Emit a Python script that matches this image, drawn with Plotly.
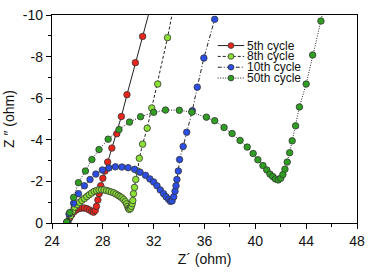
import plotly.graph_objects as go

# ---- data (Z' in ohm, Z'' in ohm) ----
c5_x = [25.25, 25.4, 25.55, 25.75, 25.95, 26.15, 26.35, 26.55, 26.75, 26.95, 27.12, 27.27,
        27.4, 27.5, 27.61, 27.71, 27.84, 28.0, 28.17, 28.38, 28.71, 29.1, 29.46, 29.9,
        30.56, 31.13, 31.85]
c5_y = [-0.05, -0.25, -0.4, -0.55, -0.65, -0.7, -0.72, -0.72, -0.69, -0.63, -0.56, -0.52,
        -0.6, -0.8, -1.11, -1.41, -1.79, -2.15, -2.5, -2.93, -3.6, -4.29, -5.12, -6.17,
        -7.71, -8.97, -10.6]

c8_x = [25.25, 25.45, 25.6, 25.78, 25.97, 26.16, 26.35, 26.55, 26.74, 26.93, 27.12, 27.32,
        27.51, 27.7, 27.9, 28.09, 28.29, 28.48, 28.67, 28.86, 29.03, 29.2, 29.35, 29.5,
        29.64, 29.77, 29.87, 29.95, 30.02, 30.08, 30.18, 30.25, 30.31, 30.36, 30.41,
        30.49, 30.59, 30.74, 30.87, 31.13, 31.49, 31.85, 32.32, 33.09, 33.6]
c8_y = [-0.05, -0.35, -0.55, -0.76, -0.88, -0.99, -1.09, -1.18, -1.27, -1.36, -1.44, -1.52,
        -1.56, -1.59, -1.6, -1.59, -1.56, -1.53, -1.49, -1.45, -1.39, -1.33, -1.27, -1.21,
        -1.13, -1.03, -0.92, -0.8, -0.7, -0.65, -0.7, -0.8, -0.93, -1.08, -1.41,
        -1.71, -2.09, -2.5, -3.11, -3.79, -4.56, -5.53, -6.68, -8.91, -10.5]

c10_x = [25.2, 25.34, 25.7, 26.08, 26.55, 26.99, 27.45, 27.96, 28.48, 28.99, 29.5, 29.99,
         30.5, 30.93, 31.36, 31.7, 32.0, 32.26, 32.52, 32.78, 32.98, 33.17, 33.32, 33.45,
         33.58, 33.68, 33.76, 33.83, 33.94, 34.04, 34.32, 34.6, 35.04, 35.43, 35.95,
         36.8, 37.3]
c10_y = [-0.05, -0.43, -0.95, -1.41, -1.79, -2.09, -2.35, -2.55, -2.65, -2.7, -2.69, -2.66,
         -2.58, -2.44, -2.29, -2.12, -1.97, -1.79, -1.59, -1.41, -1.26, -1.14, -1.04, -1.06,
         -1.26, -1.53, -1.79, -2.09, -2.5, -3.05, -3.68, -4.36, -5.4, -6.53, -7.93,
         -9.79, -10.9]

c50_x = [25.15, 25.4, 25.7, 26.08, 26.63, 27.14, 27.7, 28.42, 29.27, 30.1, 30.97, 32.0,
         32.93, 34.02, 35.0, 36.15, 36.8, 37.54, 38.17, 38.8, 39.36, 39.83, 40.2, 40.6,
         40.9, 41.15, 41.37, 41.58, 41.8, 42.0, 42.17, 42.33, 42.51, 42.7, 42.9, 43.17,
         43.47, 44.0, 44.51, 45.16, 45.5]
c50_y = [-0.05, -0.5, -1.23, -1.94, -2.5, -3.05, -3.53, -4.03, -4.49, -4.85, -5.11, -5.32,
         -5.43, -5.42, -5.33, -5.09, -4.92, -4.59, -4.3, -3.97, -3.65, -3.34, -3.04, -2.76,
         -2.55, -2.35, -2.23, -2.12, -2.07, -2.15, -2.33, -2.59, -2.93, -3.38, -3.95, -4.67,
         -5.58, -6.68, -8.08, -9.71, -10.6]

series_names = ["5th cycle", "8th cycle", "10th cycle", "50th cycle"]
series_colors = ["#E8261C", "#8BE035", "#2B4FE6", "#2F9E22"]
series_dash = ["solid", "3px,2px", "4px,2px,1px,2px", "1px,1.5px"]

x_ticks = [24, 28, 32, 36, 40, 44, 48]
y_ticks = [-10, -8, -6, -4, -2, 0]
y_tick_text = ["-10", "-8", "-6", "-4", "-2", "0"]

xs = [c5_x, c8_x, c10_x, c50_x]
ys = [c5_y, c8_y, c10_y, c50_y]

fig = go.Figure()
for name, x, y, col, dash in zip(series_names, xs, ys, series_colors, series_dash):
    fig.add_trace(go.Scatter(
        x=x, y=y, name=name, mode="lines+markers", showlegend=False,
        line=dict(color="#222222", width=1, dash=dash),
        marker=dict(size=6.5, color=col, line=dict(color="#333333", width=0.8)),
    ))

# manual compact legend (paper coordinates)
L, T, W, H = 52, 7, 311, 221
def px(xp):
    return (xp - L) / W
def py(yp):
    return 1 - (yp - T) / H

row_y = [39.5, 51, 62.5, 74]
for name, col, dash, ry in zip(series_names, series_colors, series_dash, row_y):
    fig.add_shape(type="line", xref="paper", yref="paper",
                  x0=px(221), x1=px(248), y0=py(ry), y1=py(ry),
                  line=dict(color="#222222", width=1, dash=dash))
    fig.add_shape(type="circle", xref="paper", yref="paper",
                  x0=px(234.5 - 3), x1=px(234.5 + 3), y0=py(ry + 3), y1=py(ry - 3),
                  fillcolor=col, line=dict(color="#333333", width=0.8))
    fig.add_annotation(text=name, xref="paper", yref="paper", x=px(250), y=py(ry),
                       xanchor="left", yanchor="middle", showarrow=False, borderpad=0,
                       font=dict(family="Liberation Sans, Arial", size=12, color="#111111"))

axis_font = dict(family="Liberation Sans, Arial", size=14, color="#111111")
fig.update_layout(
    width=372, height=272,
    margin=dict(l=L, r=372 - L - W, t=T, b=272 - T - H),
    paper_bgcolor="white", plot_bgcolor="white",
    font=axis_font,
    xaxis=dict(range=[24, 48], tickvals=x_ticks, ticks="outside", ticklen=5, tickwidth=1,
               tickcolor="black", showgrid=False, zeroline=False, ticklabeloverflow="allow",
               showline=True, linecolor="black", linewidth=1.3, mirror=True,
               minor=dict(ticks="outside", ticklen=3, tickcolor="black", dtick=2, showgrid=False),
               title=dict(text="Z\u00b4 (ohm)", font=axis_font, standoff=6),
               tickfont=axis_font),
    yaxis=dict(range=[0, -10], tickvals=y_ticks, ticktext=y_tick_text, ticks="outside",
               ticklen=5, tickwidth=1, tickcolor="black", showgrid=False, zeroline=False,
               ticklabeloverflow="allow",
               showline=True, linecolor="black", linewidth=1.3, mirror=True,
               minor=dict(ticks="outside", ticklen=3, tickcolor="black", dtick=1, showgrid=False),
               title=dict(text="Z \u2033 (ohm)", font=axis_font, standoff=4),
               tickfont=axis_font),
)

fig.write_html("out.html", config={"displayModeBar": False},
               post_script="document.body.style.margin='0';document.body.style.overflow='hidden';")
